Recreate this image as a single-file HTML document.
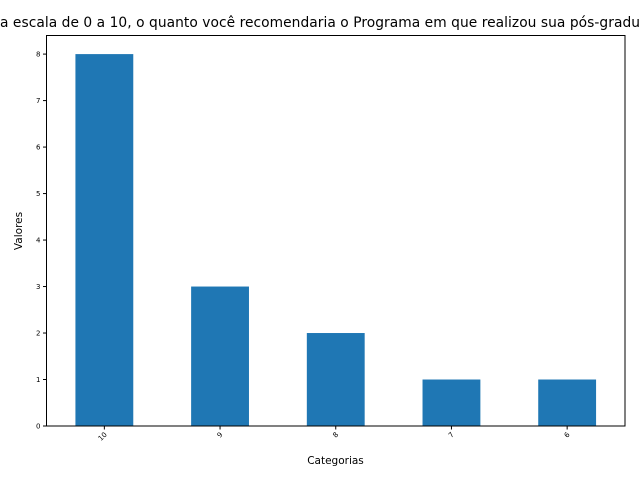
<!DOCTYPE html>
<html><head><meta charset="utf-8"><style>
body{margin:0;background:#fff}
svg text{font-family:"DejaVu Sans","Liberation Sans",sans-serif;fill:#000}
</style></head><body>
<svg id="chart" width="640" height="480" xmlns="http://www.w3.org/2000/svg">
<rect width="640" height="480" fill="#fff"/>
<g>
<text x="0" y="27" font-size="13.8" text-anchor="end">Em um</text>
<text x="0" y="27" font-size="13.8" textLength="640" lengthAdjust="spacing">a escala de 0 a 10, o quanto você recomendaria o Programa em que realizou sua pós-gradu</text>
<text x="641" y="27" font-size="13.8">ação?</text>
</g>
<g id="bars"></g>
<g id="yticks"></g>
<g id="xticks"></g>
<rect x="46.5" y="35.5" width="578.5" height="390.5" fill="none" stroke="#000" stroke-width="1"/>
<text x="335.5" y="464" font-size="10.5" text-anchor="middle">Categorias</text>
<text transform="translate(22,231) rotate(-90)" font-size="10.5" text-anchor="middle">Valores</text>
</svg>
<script>
const categories = ["10","9","8","7","6"];
const values = [8,3,2,1,1];
const yTicks = [0,1,2,3,4,5,6,7,8];
const NS="http://www.w3.org/2000/svg";
const L=46.5,R=625,T=35.5,B=426;
const yMax=8.4;
function y(v){return B-(v/yMax)*(B-T);}
const band=(R-L)/categories.length;
function x(i){return L+band*(i+0.5);}
const bw=band*0.5;
const gb=document.getElementById('bars'),gy=document.getElementById('yticks'),gx=document.getElementById('xticks');
values.forEach((v,i)=>{
  const r=document.createElementNS(NS,'rect');
  r.setAttribute('x',x(i)-bw/2);r.setAttribute('y',y(v));
  r.setAttribute('width',bw);r.setAttribute('height',B-y(v));
  r.setAttribute('fill','#1f77b4');
  
  
  gb.appendChild(r);
  const tk=document.createElementNS(NS,'line');
  tk.setAttribute('x1',x(i));tk.setAttribute('x2',x(i));tk.setAttribute('y1',B);tk.setAttribute('y2',B+3.5);tk.setAttribute('stroke','#000');
  
  
  gx.appendChild(tk);
  const t=document.createElementNS(NS,'text');
  t.setAttribute('font-size','7');t.setAttribute('text-anchor','end');
  t.setAttribute('transform','translate('+(x(i)+3)+','+(B+9)+') rotate(-45)');
  t.textContent=categories[i];
  
  
  gx.appendChild(t);
});
yTicks.forEach(v=>{
  const tk=document.createElementNS(NS,'line');
  tk.setAttribute('x1',L-3.5);tk.setAttribute('x2',L);tk.setAttribute('y1',y(v));tk.setAttribute('y2',y(v));tk.setAttribute('stroke','#000');
  
  
  gy.appendChild(tk);
  const t=document.createElementNS(NS,'text');
  t.setAttribute('x',L-6);t.setAttribute('y',y(v)+2.5);t.setAttribute('font-size','7');t.setAttribute('text-anchor','end');
  t.textContent=v;
  
  
  gy.appendChild(t);
});
</script>
</body></html>
